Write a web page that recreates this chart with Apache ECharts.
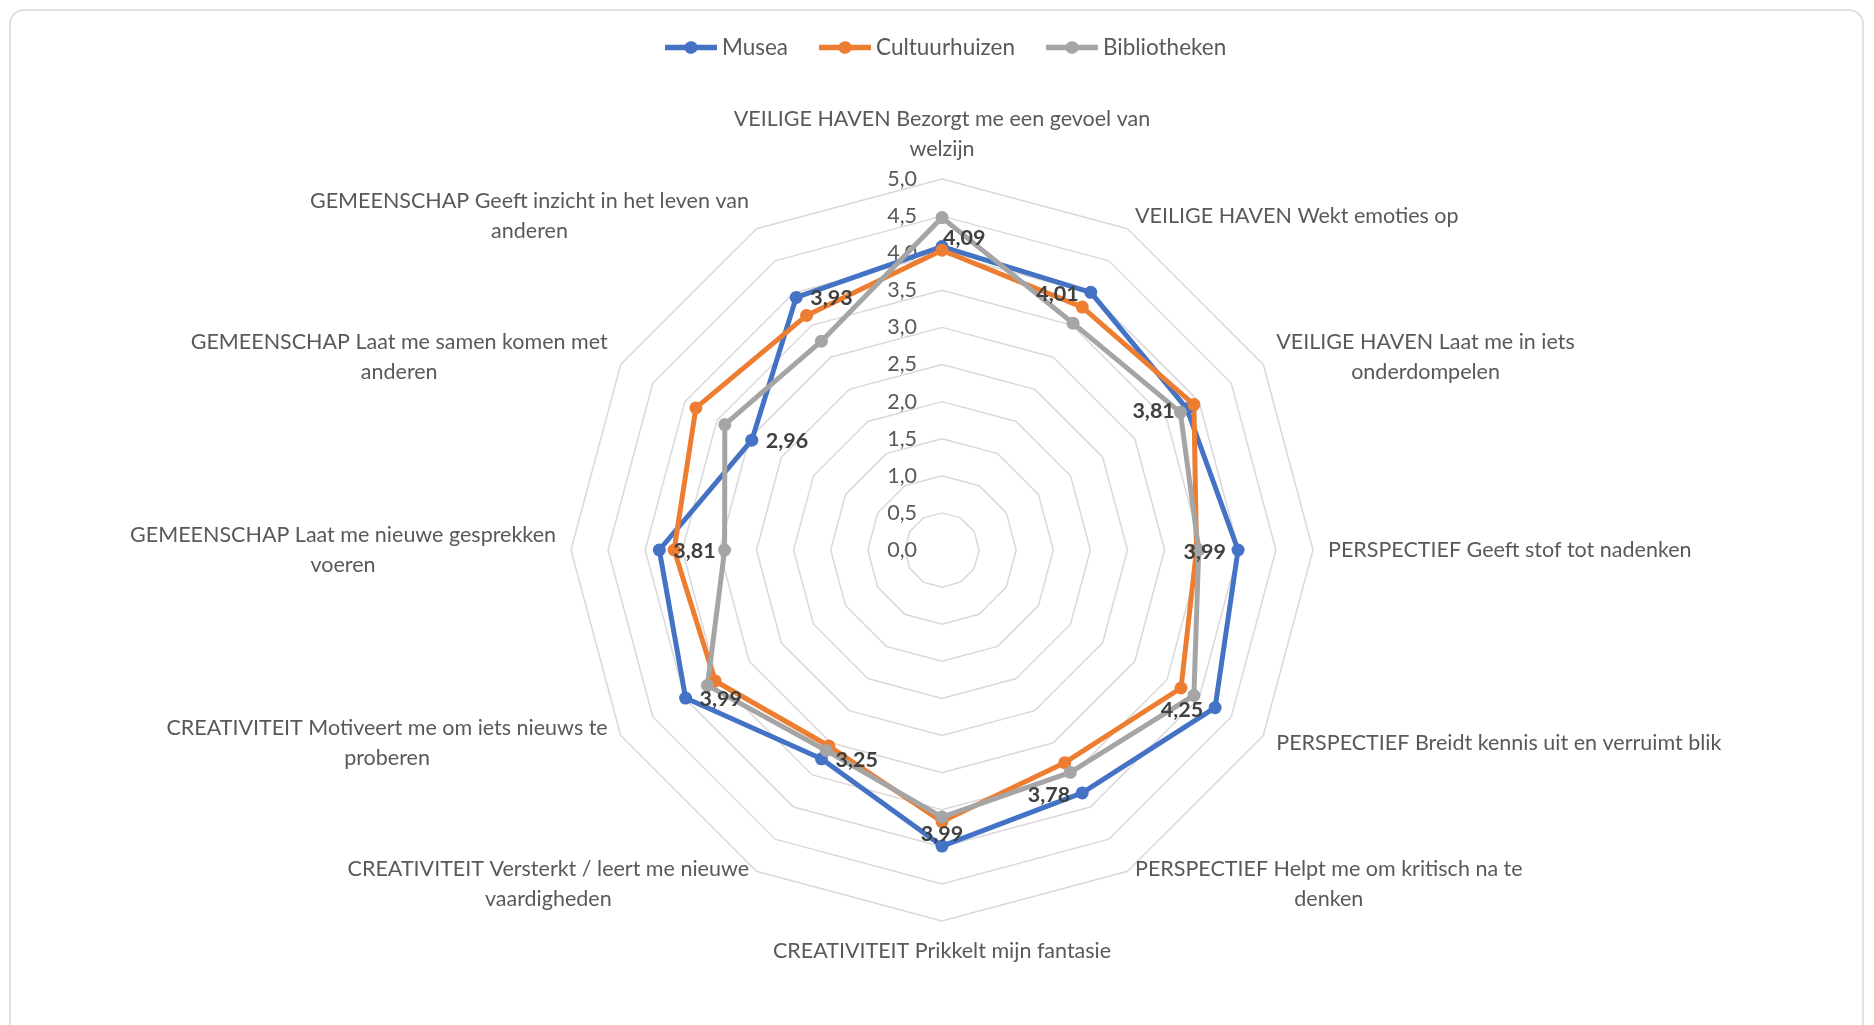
<!DOCTYPE html>
<html>
<head>
<meta charset="utf-8">
<script src="https://cdn.jsdelivr.net/npm/echarts@6/dist/echarts.min.js"></script>
<style>
  html, body { margin: 0; padding: 0; background: #ffffff; }
  #chart { width: 1874px; height: 1025px; }
</style>
</head>
<body>
<div id="chart"></div>
<script>
// Statements, listed clockwise starting at the top of the web
const categories = [
  'VEILIGE HAVEN Bezorgt me een gevoel van\nwelzijn',
  'VEILIGE HAVEN Wekt emoties op',
  'VEILIGE HAVEN Laat me in iets\nonderdompelen',
  'PERSPECTIEF Geeft stof tot nadenken',
  'PERSPECTIEF Breidt kennis uit en verruimt blik',
  'PERSPECTIEF Helpt me om kritisch na te\ndenken',
  'CREATIVITEIT Prikkelt mijn fantasie',
  'CREATIVITEIT Versterkt / leert me nieuwe\nvaardigheden',
  'CREATIVITEIT Motiveert me om iets nieuws te\nproberen',
  'GEMEENSCHAP Laat me nieuwe gesprekken\nvoeren',
  'GEMEENSCHAP Laat me samen komen met\nanderen',
  'GEMEENSCHAP Geeft inzicht in het leven van\nanderen'
];

// Average scores per type of institution (same clockwise order)
const musea         = [4.09, 4.01, 3.81, 3.99, 4.25, 3.78, 3.99, 3.25, 3.99, 3.81, 2.96, 3.93];
const cultuurhuizen = [4.04, 3.78, 3.92, 3.43, 3.72, 3.31, 3.66, 3.05, 3.53, 3.61, 3.83, 3.65];
const bibliotheken  = [4.48, 3.53, 3.71, 3.46, 3.92, 3.46, 3.60, 3.12, 3.65, 2.93, 3.38, 3.25];

const seriesNames  = ['Musea', 'Cultuurhuizen', 'Bibliotheken'];
const seriesColors = ['#4472C4', '#ED7D31', '#A5A5A5'];

// Value axis: 0,0 … 5,0 in steps of 0,5
const axisMin = 0;
const axisMax = 5;
const axisSplits = 10;

const FONT = 'Lato, "Liberation Sans", sans-serif';
const CENTER = [942, 550];
const RADIUS = 371;
const NAME_SIZE = 21.5;

const comma = (v, d) => Number(v).toFixed(d).replace('.', ',');

// ECharts lays indicators out counter-clockwise; reverse (keeping the first on top)
const order = categories.map((_, i) => (categories.length - i) % categories.length);
const reorder = arr => order.map(i => arr[i]);

const indicators = order.map((i, k) => {
  const ind = { name: categories[i], min: axisMin, max: axisMax };
  if (k === 0) {
    // value labels only along the vertical axis
    ind.axisLabel = {
      show: true,
      showMinLabel: true,
      showMaxLabel: true,
      margin: 25,
      color: '#595959',
      fontFamily: FONT,
      fontSize: 21.5,
      formatter: v => comma(v, 1)
    };
  }
  return ind;
});

// legend marker: short thick line with a dot in the middle
const legendIcon = 'path://M0,4.25 H19.9 A7,7 0 0,1 32.1,4.25 H52 V9.75 H32.1 A7,7 0 0,1 19.9,9.75 H0 Z';

// put each value label on the inner side of its point
function placeLabel(p) {
  const px = p.rect.x + p.rect.width / 2;
  const py = p.rect.y + p.rect.height / 2;
  const dx = px - CENTER[0];
  const dy = py - CENTER[1];
  if (Math.abs(dx) < 4) {
    if (dy < 0) return { x: px + 1, y: py + 3, align: 'left', verticalAlign: 'bottom' };
    return { x: px, y: py - 12, align: 'center', verticalAlign: 'middle' };
  }
  if (dx > 0) return { x: px - 12, y: py + 2, align: 'right', verticalAlign: 'middle' };
  return { x: px + 14, y: py + 1, align: 'left', verticalAlign: 'middle' };
}

const values = [musea, cultuurhuizen, bibliotheken];

const series = seriesNames.map((name, s) => ({
  type: 'radar',
  name: name,
  symbol: 'circle',
  symbolSize: 13,
  lineStyle: { width: 5, color: seriesColors[s] },
  itemStyle: { color: seriesColors[s] },
  emphasis: { disabled: true },
  data: [{ name: name, value: reorder(values[s]) }]
}));

// value labels for Musea, drawn above all lines
series.push({
  type: 'radar',
  name: 'MuseaWaarden',
  silent: true,
  symbol: 'circle',
  symbolSize: 2,
  lineStyle: { width: 0, opacity: 0 },
  itemStyle: { color: 'rgba(0,0,0,0)' },
  emphasis: { disabled: true },
  label: {
    show: true,
    formatter: p => comma(p.value, 2),
    fontFamily: FONT,
    fontSize: 21.5,
    fontWeight: 'bold',
    color: '#404040',
    textBorderWidth: 0
  },
  labelLayout: placeLabel,
  data: [{ name: 'MuseaWaarden', value: reorder(musea) }]
});

const chart = echarts.init(document.getElementById('chart'), null, { renderer: 'canvas' });

chart.setOption({
  animation: false,
  backgroundColor: '#ffffff',
  graphic: [{
    type: 'rect',
    z: -10,
    silent: true,
    shape: { x: 10, y: 10, width: 1853, height: 1060, r: 14 },
    style: { fill: '#ffffff', stroke: '#d9d9d9', lineWidth: 1.5 }
  }],
  legend: {
    top: 31,
    left: 660,
    itemWidth: 52,
    itemHeight: 14,
    itemGap: 31,
    selectedMode: false,
    data: seriesNames.map(n => ({ name: n, icon: legendIcon })),
    textStyle: { fontFamily: FONT, fontSize: 22.5, color: '#595959' }
  },
  radar: {
    center: CENTER,
    radius: RADIUS,
    startAngle: 90,
    splitNumber: axisSplits,
    shape: 'polygon',
    nameGap: 15,
    indicator: indicators,
    axisName: {
      color: '#595959',
      fontFamily: FONT,
      fontSize: NAME_SIZE,
      lineHeight: 30,
      formatter: name => name.split('\n').map(l => '{n|' + l + '}').join('\n'),
      rich: {
        n: { align: 'center', color: '#595959', fontFamily: FONT, fontSize: NAME_SIZE, lineHeight: 30 }
      }
    },
    axisLine: { show: false },
    axisTick: { show: false },
    axisLabel: { show: false },
    splitLine: { lineStyle: { color: '#d9d9d9', width: 1.5 } },
    splitArea: { show: false }
  },
  series: series
});
</script>
</body>
</html>
